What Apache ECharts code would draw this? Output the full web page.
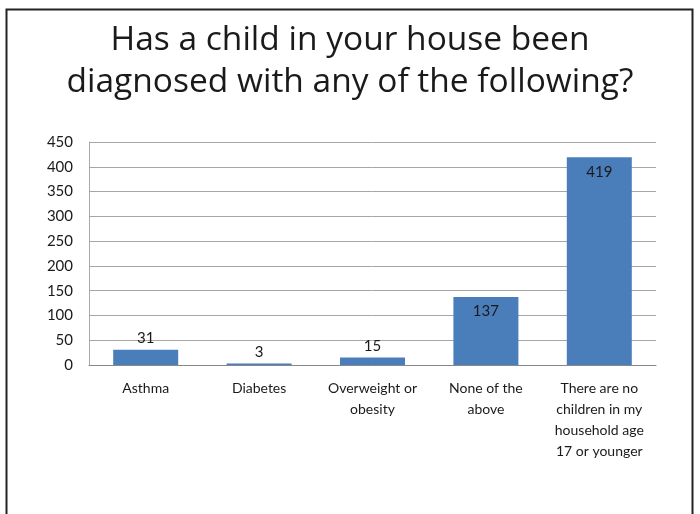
<!DOCTYPE html>
<html>
<head>
<meta charset="utf-8">
<script src="https://cdn.jsdelivr.net/npm/echarts@6/dist/echarts.min.js"></script>
<style>html,body{margin:0;padding:0;background:#fff}#c{width:700px;height:514px}</style>
</head>
<body>
<div id="c"></div>
<script>
var titleText = 'Has a child in your house been\ndiagnosed with any of the following?';
var categories = ['Asthma', 'Diabetes', 'Overweight or\nobesity', 'None of the\nabove', 'There are no\nchildren in my\nhousehold age\n17 or younger'];
var values = [31, 3, 15, 137, 419];
var insideLabel = [false, false, false, true, true];
var yTicks = [0, 50, 100, 150, 200, 250, 300, 350, 400, 450];

var FONT = 'Lato, "Open Sans", sans-serif';
var TFONT = '"Open Sans", Lato, sans-serif';
var chart = echarts.init(document.getElementById('c'), null, {renderer: 'canvas'});
chart.setOption({
  animation: false,
  backgroundColor: '#ffffff',
  graphic: [{
    type: 'rect', shape: {x: 6.5, y: 9.5, width: 686, height: 520},
    style: {fill: 'none', stroke: '#222', lineWidth: 2}, silent: true
  }],
  title: {
    text: titleText, left: 'center', top: 14,
    textStyle: {fontFamily: TFONT, fontSize: 33.5, fontWeight: 'normal', color: '#1a1a1a', lineHeight: 42}
  },
  grid: {left: 89, right: 44, top: 142, bottom: 149, containLabel: false},
  xAxis: {
    type: 'category', data: categories,
    axisLine: {lineStyle: {color: '#888', width: 1}},
    axisTick: {show: false},
    axisLabel: {fontFamily: FONT, fontSize: 14, color: '#1a1a1a', lineHeight: 21, margin: 13, interval: 0}
  },
  yAxis: {
    type: 'value', min: yTicks[0], max: yTicks[yTicks.length - 1], interval: 50,
    axisLine: {show: true, lineStyle: {color: '#aaa'}},
    axisTick: {show: false},
    splitLine: {lineStyle: {color: '#a6a6a6', width: 1}},
    axisLabel: {fontFamily: FONT, fontSize: 15, color: '#1a1a1a', margin: 16}
  },
  series: [{
    type: 'bar', barWidth: 65,
    data: values.map(function (v, i) {
      return {
        value: v,
        label: insideLabel[i]
          ? {show: true, position: 'insideTop', distance: 7}
          : {show: true, position: 'top', distance: 4}
      };
    }),
    itemStyle: {color: '#4a7ebb'},
    label: {fontFamily: FONT, fontSize: 15, color: '#1a1a1a'}
  }]
});
</script>
</body>
</html>
